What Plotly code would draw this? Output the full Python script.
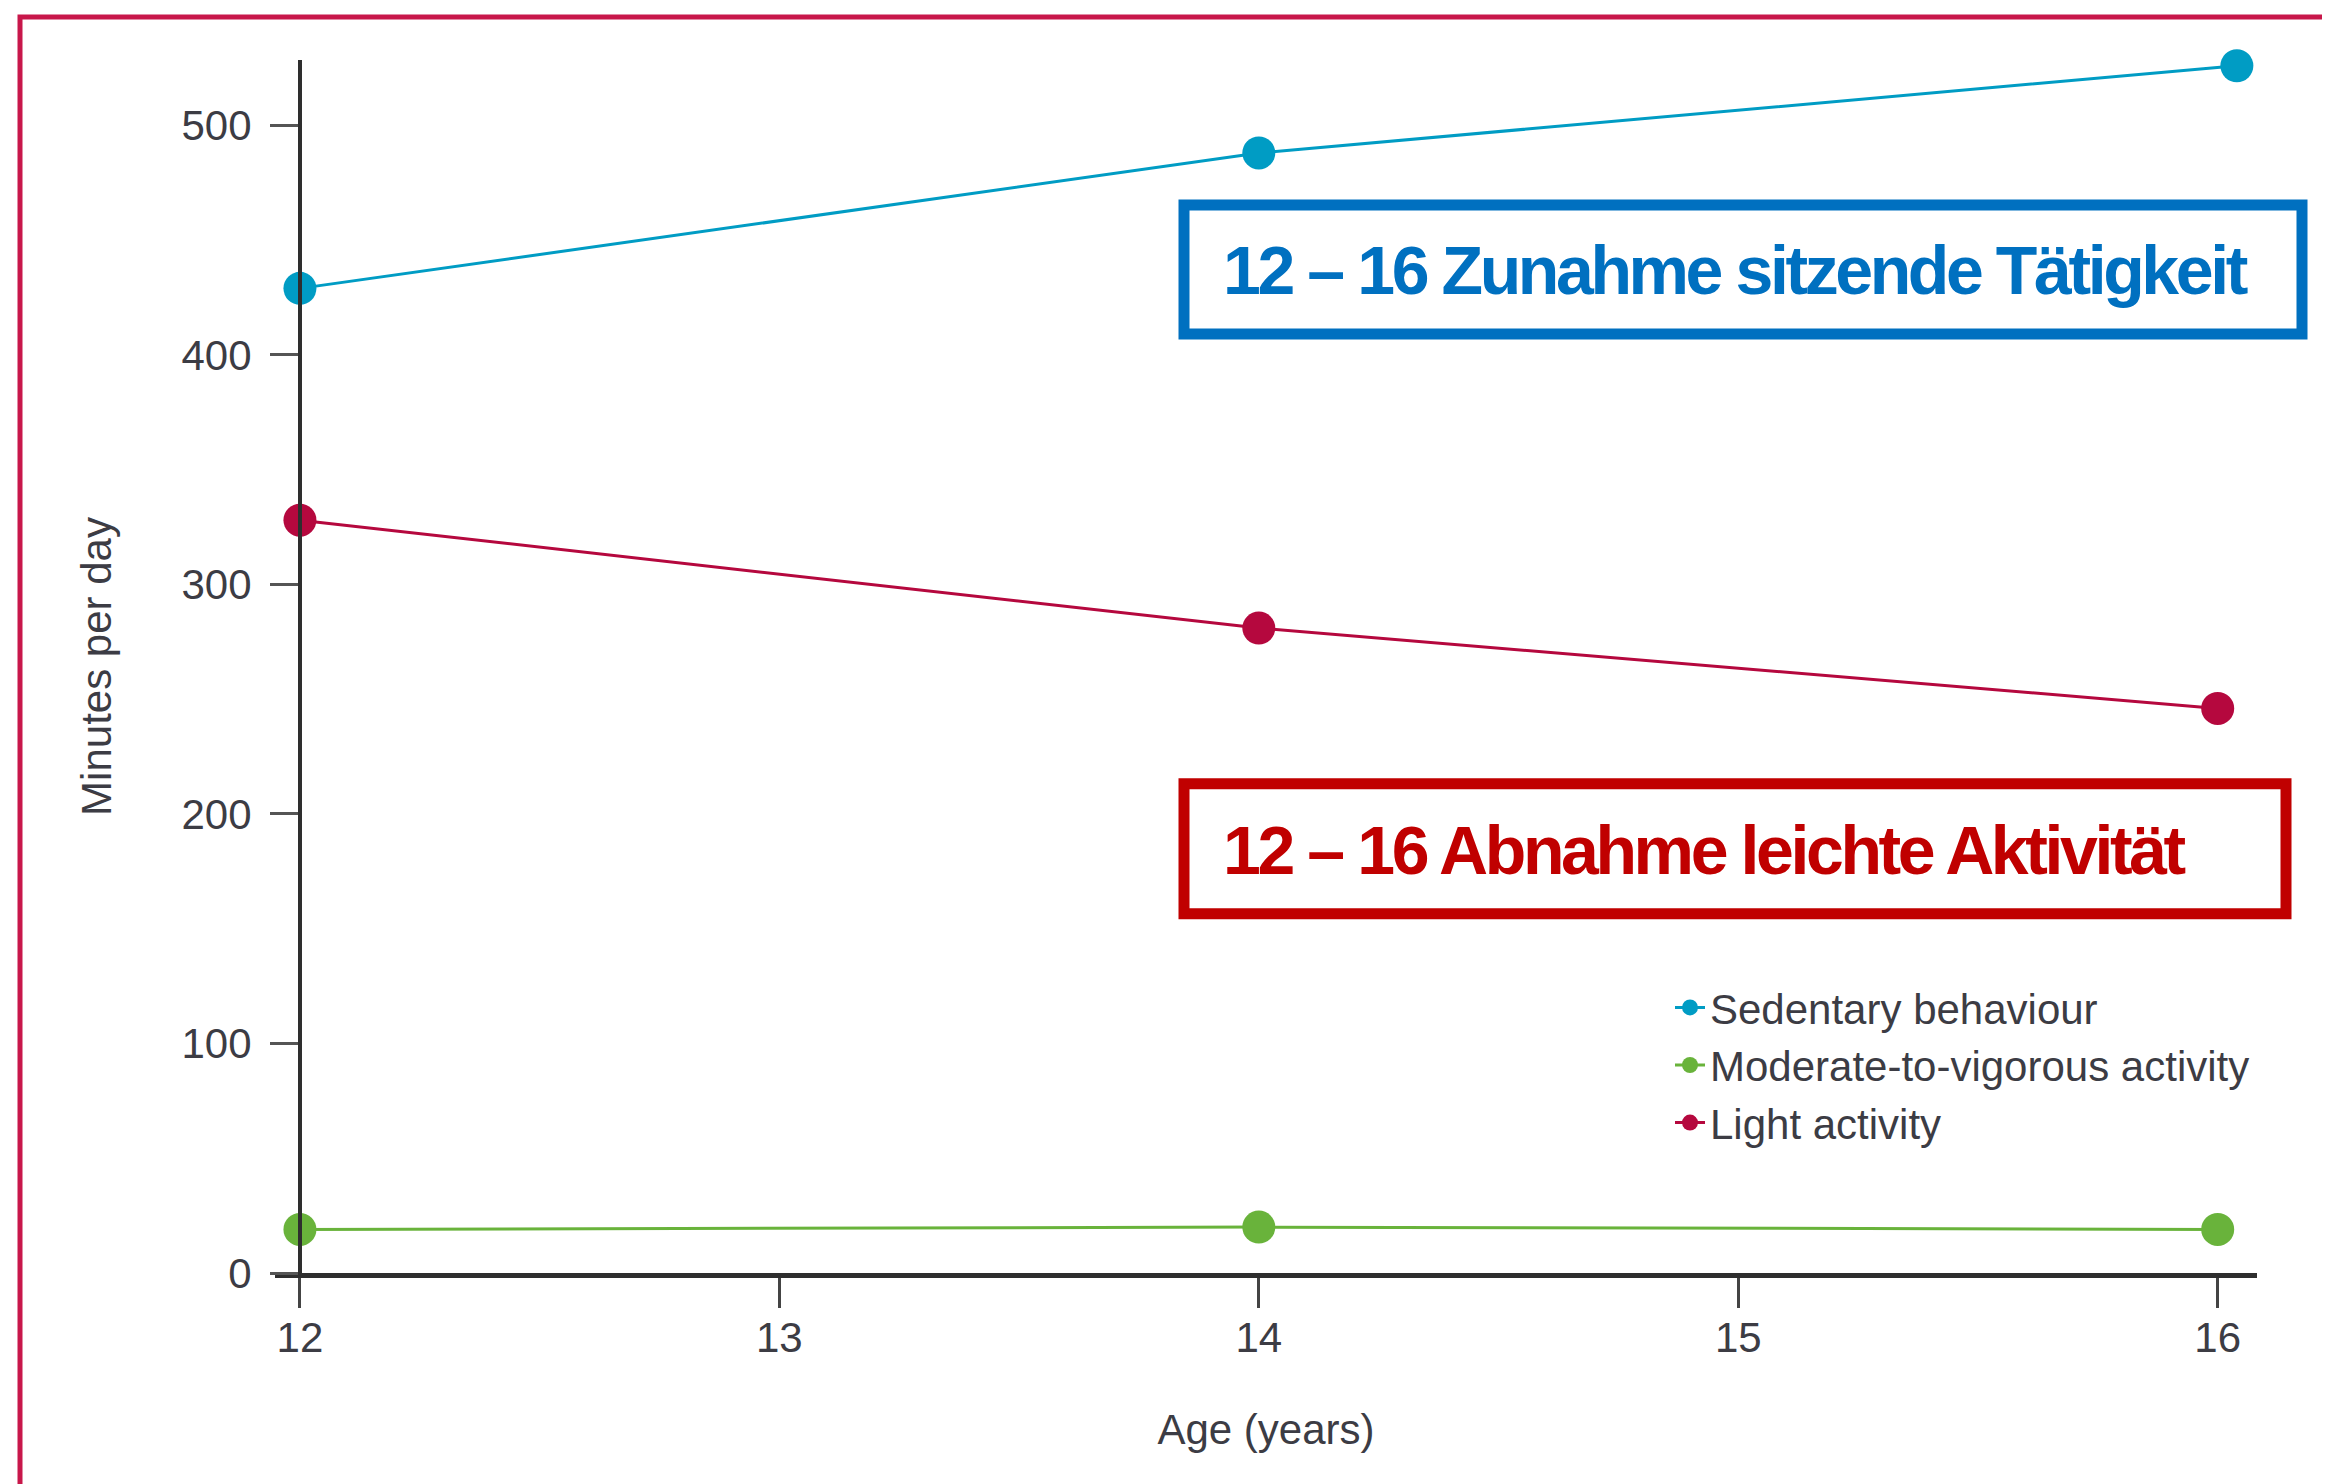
import plotly.graph_objects as go

# ages (years) and minutes per day
ages = [12, 14, 16]
sedentary_ages = [12, 14, 16.04]  # last point sits a little right of the 16 tick
sedentary = [429, 488, 526]
mvpa = [19, 20, 19]
light = [328, 281, 246]

series_names = ["Sedentary behaviour", "Moderate-to-vigorous activity", "Light activity"]
series_colors = ["#009cc4", "#69b33b", "#b5083e"]
x_ticks = [12, 13, 14, 15, 16]
y_ticks = [0, 100, 200, 300, 400, 500]

# the page puts the figure 8px in from the top-left corner
OFF = 8
W, H = 2330 - OFF, 1484 - OFF
L, R, T, B = 267, 73, 52, 210.5


def px(x):
    # page pixel column -> paper x
    return (x - OFF - L) / (W - L - R)


def py(y):
    # page pixel row -> paper y
    return (H - B - (y - OFF)) / (H - T - B)


fig = go.Figure()
for name, xs, vals, col in zip(series_names, [sedentary_ages, ages, ages],
                               [sedentary, mvpa, light], series_colors):
    fig.add_trace(go.Scatter(
        x=xs, y=vals, name=name, mode="lines+markers",
        line=dict(color=col, width=3),
        marker=dict(color=col, size=33),
        cliponaxis=False,
    ))

tick_font = dict(family="Liberation Sans, Arial, sans-serif", size=42, color="#3c3c44")
box_font = "Liberation Sans, Arial, sans-serif"


def boxed(txt):
    # squeeze the bold text so it comes out narrow like the original
    return '<span style="letter-spacing:-3.4px"><b>' + txt + '</b></span>'


fig.update_layout(
    width=W, height=H,
    margin=dict(l=L, r=R, t=T, b=B),
    paper_bgcolor="white", plot_bgcolor="white",
    xaxis=dict(
        range=[11.948, 16.082], tickvals=x_ticks, ticks="outside", ticklen=30,
        tickwidth=3, tickcolor="#444", showline=True, linecolor="#2e2e2e",
        linewidth=5, showgrid=False, zeroline=False, tickfont=tick_font,
        ticklabelstandoff=-6,
        title=dict(text="Age (years)", font=tick_font, standoff=56),
    ),
    yaxis=dict(
        range=[0, 528.5], tickvals=y_ticks, ticks="outside", ticklen=28,
        tickwidth=3, tickcolor="#555", showline=True, linecolor="#2e2e2e",
        linewidth=4, showgrid=False, zeroline=False, tickfont=tick_font,
        anchor="free", position=px(300), ticklabelstandoff=10,
        title=dict(text="Minutes per day", font=tick_font, standoff=56),
    ),
    legend=dict(
        x=px(1670), y=py(974), xanchor="left", yanchor="top",
        font=dict(family="Liberation Sans, Arial, sans-serif", size=42, color="#3c3c44"),
        bgcolor="rgba(0,0,0,0)",
    ),
    shapes=[
        # outer frame
        dict(type="rect", xref="paper", yref="paper",
             x0=px(20), x1=px(2345), y0=py(1500), y1=py(17),
             line=dict(color="#c8174a", width=5)),
        dict(type="rect", xref="paper", yref="paper",
             x0=px(1184), x1=px(2302), y0=py(334), y1=py(205),
             line=dict(color="#0070c0", width=11)),
        dict(type="rect", xref="paper", yref="paper",
             x0=px(1184), x1=px(2286), y0=py(914), y1=py(784),
             line=dict(color="#c00000", width=11)),
    ],
    annotations=[
        dict(text=boxed("12 – 16 Zunahme sitzende Tätigkeit"), xref="paper", yref="paper",
             x=px(1221), y=py(270), xanchor="left", yanchor="middle", showarrow=False,
             font=dict(family=box_font, size=68, color="#0070c0")),
        dict(text=boxed("12 – 16 Abnahme leichte Aktivität"), xref="paper", yref="paper",
             x=px(1221), y=py(850), xanchor="left", yanchor="middle", showarrow=False,
             font=dict(family=box_font, size=68, color="#c00000")),
    ],
)

fig.write_html("out.html", config={"displayModeBar": False})
